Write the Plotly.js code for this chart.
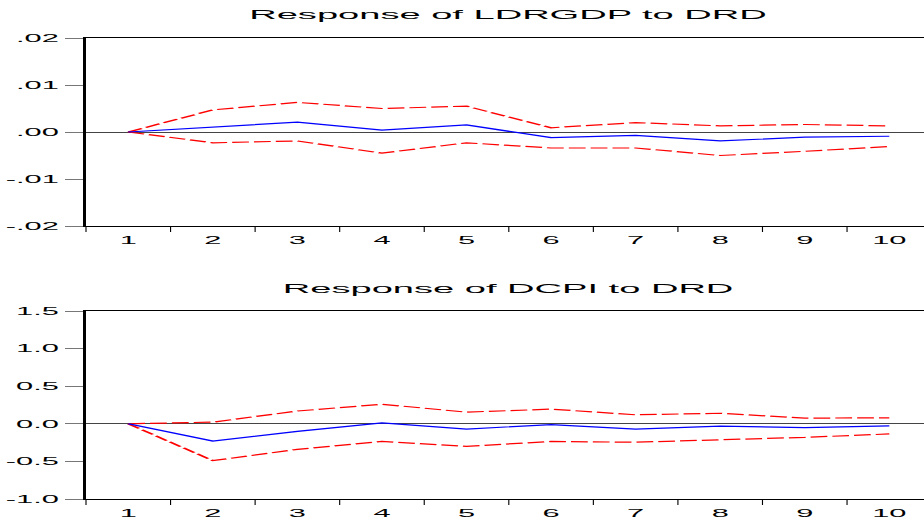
<!DOCTYPE html>
<html>
<head>
<meta charset="utf-8">
<script src="https://cdn.plot.ly/plotly-3.0.1.min.js"></script>
<style>
html,body{margin:0;padding:0;background:#fff;overflow:hidden;width:924px;height:527px;}
#wrap{width:330px;height:527px;transform:scaleX(2.8);transform-origin:0 0;}
</style>
</head>
<body>
<div id="wrap"><div id="chart"></div></div>
<script>
// Periods
const periods = ["1","2","3","4","5","6","7","8","9","10"];

// Response of LDRGDP to DRD
const gdpResp  = [0, 0.0011, 0.0021, 0.0004, 0.0015, -0.0012, -0.0007, -0.0019, -0.0011, -0.0009];
const gdpUpper = [0, 0.0047, 0.0063, 0.0050, 0.0055, 0.0009, 0.0020, 0.0013, 0.0016, 0.0013];
const gdpLower = [0, -0.0023, -0.0019, -0.0045, -0.0023, -0.0034, -0.0034, -0.0050, -0.0041, -0.0031];

// Response of DCPI to DRD
const cpiResp  = [0, -0.23, -0.10, 0.013, -0.07, -0.01, -0.07, -0.03, -0.05, -0.027];
const cpiUpper = [0, 0.022, 0.17, 0.26, 0.155, 0.195, 0.12, 0.14, 0.075, 0.08];
const cpiLower = [0, -0.49, -0.34, -0.235, -0.30, -0.235, -0.245, -0.21, -0.18, -0.135];

// Tick labels
const gdpTickVals = [-0.02, -0.01, 0, 0.01, 0.02];
const gdpTickText = ["-.02", "-.01", ".00", ".01", ".02"];
const cpiTickVals = [-1.0, -0.5, 0, 0.5, 1.0, 1.5];
const cpiTickText = ["-1.0", "-0.5", "0.0", "0.5", "1.0", "1.5"];

const titles = ["Response of LDRGDP to DRD", "Response of DCPI to DRD"];

const red = {color:"#ff0000", width:1.2, dash:"6px,1.8px"};
const blue = {color:"#0000ff", width:1.2};

const traces = [
  {x:periods, y:gdpUpper, mode:"lines", line:red, xaxis:"x", yaxis:"y", hoverinfo:"skip"},
  {x:periods, y:gdpLower, mode:"lines", line:red, xaxis:"x", yaxis:"y", hoverinfo:"skip"},
  {x:periods, y:gdpResp, mode:"lines", line:blue, xaxis:"x", yaxis:"y", hoverinfo:"skip"},
  {x:periods, y:cpiUpper, mode:"lines", line:red, xaxis:"x2", yaxis:"y2", hoverinfo:"skip"},
  {x:periods, y:cpiLower, mode:"lines", line:red, xaxis:"x2", yaxis:"y2", hoverinfo:"skip"},
  {x:periods, y:cpiResp, mode:"lines", line:blue, xaxis:"x2", yaxis:"y2", hoverinfo:"skip"}
];

const font = {family:"Liberation Sans, Arial, sans-serif", color:"#000"};
const xbase = {
  type:"category", range:[-0.5, 9.41], domain:[86/924, 1],
  tickson:"boundaries", ticks:"outside", ticklen:5, tickwidth:0.4, tickcolor:"#000",
  ticklabelstandoff:4,
  showline:true, linecolor:"#000", linewidth:1, mirror:true,
  showgrid:false, zeroline:false, fixedrange:true,
  tickfont:Object.assign({size:11}, font)
};
const ybase = {
  ticks:"outside", ticklen:6.4, tickwidth:1, tickcolor:"#777",
  showline:true, linecolor:"#000", linewidth:1.1,
  showgrid:false, zeroline:true, zerolinecolor:"#444", zerolinewidth:1,
  fixedrange:true, tickmode:"array",
  tickfont:Object.assign({size:11}, font)
};

const layout = {
  width:330, height:527,
  margin:{l:0, r:0, t:0, b:0, pad:0},
  paper_bgcolor:"#fff", plot_bgcolor:"#fff",
  showlegend:false,
  font:font,
  xaxis:Object.assign({}, xbase, {anchor:"y"}),
  yaxis:Object.assign({}, ybase, {anchor:"x", domain:[1-226/527, 1-38/527], range:[-0.02, 0.02], tickvals:gdpTickVals, ticktext:gdpTickText}),
  xaxis2:Object.assign({}, xbase, {anchor:"y2"}),
  yaxis2:Object.assign({}, ybase, {anchor:"x2", domain:[1-499/527, 1-311/527], range:[-1.0, 1.5], tickvals:cpiTickVals, ticktext:cpiTickText}),
  annotations:[
    {text:titles[0], xref:"paper", yref:"paper", x:508/924, y:1-14/527, xanchor:"center", yanchor:"middle", showarrow:false, font:Object.assign({size:13.6}, font)},
    {text:titles[1], xref:"paper", yref:"paper", x:509/924, y:1-288/527, xanchor:"center", yanchor:"middle", showarrow:false, font:Object.assign({size:13.6}, font)}
  ]
};

Plotly.newPlot("chart", traces, layout, {displayModeBar:false, staticPlot:true});
</script>
</body>
</html>
